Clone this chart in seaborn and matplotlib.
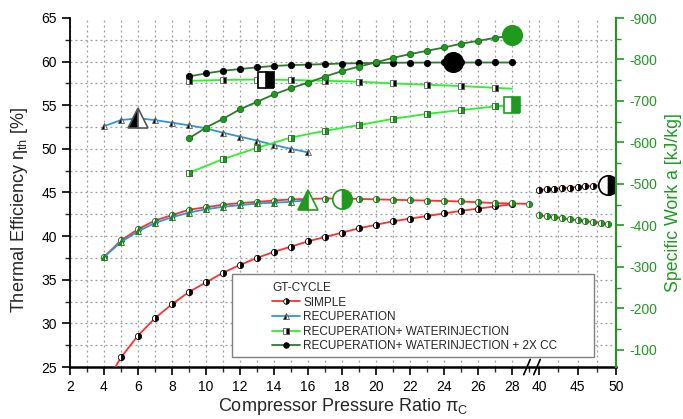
import numpy as np
import matplotlib
matplotlib.use("Agg")
import matplotlib.pyplot as plt
import seaborn as sns
from matplotlib.lines import Line2D
from matplotlib.patches import Rectangle
from matplotlib.ticker import FixedLocator

# ---------------- data ----------------
# SIMPLE cycle
pr_simple_eff = list(range(4, 29))
eff_simple = [22.8, 26.1, 28.6, 30.6, 32.2, 33.6, 34.7, 35.8, 36.7, 37.5, 38.2, 38.8, 39.4,
              39.9, 40.4, 40.9, 41.3, 41.7, 42.0, 42.3, 42.6, 42.9, 43.15, 43.4, 43.65]
pr_simple_eff_hi = list(range(40, 50))
eff_simple_hi = [45.3, 45.35, 45.4, 45.5, 45.55, 45.65, 45.7, 45.75, 45.85, 45.9]
pr_simple_work = list(range(4, 30))
work_simple = [-324, -364, -391, -412, -425, -438, -444, -450, -454, -457, -460, -463, -464,
               -465, -465, -464, -463, -462, -461, -460, -459, -458, -456, -454, -453, -452]
pr_simple_work_hi = list(range(40, 50))
work_simple_hi = [-425, -422, -420, -417, -415, -413, -411, -408, -406, -403]

# RECUPERATION
pr_recup = list(range(4, 17))
eff_recup = [52.6, 53.3, 53.5, 53.3, 53.0, 52.7, 52.35, 51.85, 51.4, 50.95, 50.45, 50.0, 49.6]
work_recup = [-324, -360, -386, -406, -420, -431, -439, -445, -449, -453, -455, -457, -461]

# RECUPERATION + WATERINJECTION
pr_wi = [9, 11, 13, 15, 17, 19, 21, 23, 25, 27, 28]
eff_wi = [57.8, 57.9, 57.95, 57.9, 57.8, 57.7, 57.5, 57.35, 57.2, 57.0, 56.9]
work_wi = [-527, -560, -587, -612, -628, -642, -657, -669, -678, -687, -690]

# RECUPERATION + WATERINJECTION + 2X CC
pr_cc = list(range(9, 29))
eff_cc = [58.3, 58.65, 58.95, 59.15, 59.35, 59.5, 59.6, 59.65, 59.72, 59.78, 59.82, 59.85,
          59.87, 59.88, 59.89, 59.9, 59.9, 59.9, 59.9, 59.9]
work_cc = [-610, -636, -657, -680, -698, -716, -731, -744, -759, -772, -783, -793, -804,
           -813, -821, -829, -838, -845, -852, -858]

# large label markers (x, value)
big_simple_eff = (49, 45.9)
big_simple_work = (18, -465)
big_recup_eff = (6, 53.5)
big_recup_work = (16, -461)
big_wi_eff = (13.5, 57.95)
big_wi_work = (28, -690)
big_cc_eff = (24.5, 59.9)
big_cc_work = (28, -858)

series_labels = ["SIMPLE", "RECUPERATION", "RECUPERATION+ WATERINJECTION",
                 "RECUPERATION+ WATERINJECTION + 2X CC"]
x_major = [2, 4, 6, 8, 10, 12, 14, 16, 18, 20, 22, 24, 26, 28, 40, 45, 50]
x_minor = list(range(3, 30, 2)) + [42.5, 47.5]

# ---------------- style ----------------
sns.set_theme(style="white")
plt.rcParams['font.family'] = ['Liberation Sans', 'DejaVu Sans']
plt.rcParams['mathtext.fontset'] = 'custom'
plt.rcParams['mathtext.rm'] = 'Liberation Sans'
plt.rcParams['mathtext.it'] = 'Liberation Sans:italic'

RED = '#ff3030'
BLUE = '#2f96d8'
LGREEN = '#2cf02c'
DGREEN = '#2e7a2e'
MGREEN = '#1f9a1f'
MEDGE = '#137013'
AXGREEN = '#1f9a1f'


def fwd(x):
    x = np.asarray(x, dtype=float)
    return np.where(x <= 29, x,
                    np.where(x < 40, 29 + (x - 29) * (10 / 17) / 11,
                             29 + 10 / 17 + (x - 40) * (7.7 / 17)))


def inv(y):
    y = np.asarray(y, dtype=float)
    b = 29 + 10 / 17
    return np.where(y <= 29, y,
                    np.where(y < b, 29 + (y - 29) * 11 / (10 / 17),
                             40 + (y - b) * 17 / 7.7))


fig = plt.figure(figsize=(6.83, 4.19), dpi=100)
ax = fig.add_axes([70 / 683, (419 - 367) / 419, 546 / 683, 349 / 419])
ax.set_xscale('function', functions=(fwd, inv))
ax.set_xlim(2, 50)
ax.set_ylim(25, 65)
ax2 = ax.twinx()
ax2.set_ylim(-59, -900)

ms_s = 4.5
ms_b = 14


def draw(axis, x, y, color, marker, fill, mfc, mec, ms=ms_s, lw=1.3, z=3, **kw):
    sns.lineplot(x=x, y=y, ax=axis, color=color, linewidth=lw, marker=marker,
                 fillstyle=fill, markerfacecolor=mfc, markerfacecoloralt='white',
                 markeredgecolor=mec, markeredgewidth=0.6, markersize=ms,
                 zorder=z, legend=False, **kw)


# efficiency (left axis, black markers)
draw(ax, pr_simple_eff, eff_simple, RED, 'o', 'right', 'black', 'black')
draw(ax, pr_simple_eff_hi, eff_simple_hi, RED, 'o', 'right', 'black', 'black')
draw(ax, pr_recup, eff_recup, BLUE, '^', 'left', 'black', '#555555')
draw(ax, pr_wi, eff_wi, LGREEN, 's', 'right', 'black', '#555555', markevery=slice(0, -1))
draw(ax, pr_cc, eff_cc, DGREEN, 'o', 'full', 'black', 'black')

# specific work (right axis, green markers)
draw(ax2, pr_simple_work, work_simple, RED, 'o', 'right', MGREEN, MEDGE)
draw(ax2, pr_simple_work_hi, work_simple_hi, RED, 'o', 'right', MGREEN, MEDGE)
draw(ax2, pr_recup, work_recup, BLUE, '^', 'left', MGREEN, MEDGE)
draw(ax2, pr_wi, work_wi, LGREEN, 's', 'right', MGREEN, MEDGE)
draw(ax2, pr_cc, work_cc, DGREEN, 'o', 'full', MGREEN, MEDGE)

# big label markers
for axis, (bx, by), mk, fill, mfc, mec in [
        (ax, big_simple_eff, 'o', 'right', 'black', 'black'),
        (ax, big_recup_eff, '^', 'left', 'black', '#555555'),
        (ax, big_wi_eff, 's', 'right', 'black', 'black'),
        (ax, big_cc_eff, 'o', 'full', 'black', 'black'),
        (ax2, big_simple_work, 'o', 'right', MGREEN, MGREEN),
        (ax2, big_recup_work, '^', 'left', MGREEN, MGREEN),
        (ax2, big_wi_work, 's', 'right', MGREEN, MGREEN),
        (ax2, big_cc_work, 'o', 'full', MGREEN, MGREEN)]:
    sns.lineplot(x=[bx], y=[by], ax=axis, marker=mk, fillstyle=fill,
                 markerfacecolor=mfc, markerfacecoloralt='white', markeredgecolor=mec,
                 markeredgewidth=1.2, markersize=ms_b if mk != 's' else 12,
                 linestyle='', zorder=5, legend=False)

# ---------------- axes cosmetics ----------------
ax.xaxis.set_major_locator(FixedLocator(x_major))
ax.xaxis.set_minor_locator(FixedLocator(x_minor))
ax.set_xticklabels([str(v) for v in x_major])
ax.yaxis.set_major_locator(FixedLocator([25, 30, 35, 40, 45, 50, 55, 60, 65]))
ax.yaxis.set_minor_locator(FixedLocator(np.arange(27.5, 65, 5)))
ax2.yaxis.set_major_locator(FixedLocator(list(range(-900, -99, 100))))
ax2.yaxis.set_minor_locator(FixedLocator(list(range(-850, -59, 100))))
ax2.set_yticklabels([str(v) for v in range(-900, -99, 100)])

grid_kw = dict(color='#9a9a9a', linestyle=(0, (1.5, 2.5)), linewidth=0.9)
ax.grid(True, axis='x', which='both', **grid_kw)
for gy in np.arange(27.5, 65, 2.5):
    ax.axhline(gy, zorder=0.5, **grid_kw)
ax.set_axisbelow(True)

for s in ['top', 'right']:
    ax.spines[s].set_visible(False)
for s in ['top', 'left', 'bottom']:
    ax2.spines[s].set_visible(False)
ax.spines['left'].set_color('black')
ax.spines['left'].set_linewidth(1.3)
ax.spines['bottom'].set_color('black')
ax.spines['bottom'].set_linewidth(1.8)
ax2.spines['right'].set_color(AXGREEN)
ax2.spines['right'].set_linewidth(1.5)

ax.tick_params(axis='both', which='major', direction='out', length=6, width=1.2,
               labelsize=10, colors='black', bottom=True, left=True)
ax.tick_params(axis='both', which='minor', direction='out', length=3.5, width=1.0,
               bottom=True, left=True)
ax2.tick_params(axis='y', which='major', direction='out', length=6, width=1.2,
                labelsize=10, colors=AXGREEN, right=True)
ax2.tick_params(axis='y', which='minor', direction='out', length=3.5, width=1.0,
                colors=AXGREEN, right=True)

ax.set_xlabel(r"Compressor Pressure Ratio π$_{\mathrm{C}}$", fontsize=13, labelpad=1)
ax.set_ylabel(r"Thermal Efficiency η$_{\mathrm{th}}$ [%]", fontsize=13)
ax.yaxis.set_label_coords(-40 / 546, (367 - 210) / 349)
ax2.set_ylabel("Specific Work a [kJ/kg]", fontsize=12.8, color=AXGREEN)
ax2.yaxis.set_label_coords((665 - 70) / 546, (367 - 203) / 349)

# axis break marks
for bx in [(527 - 70) / 546, (537 - 70) / 546]:
    ax.plot([bx - 0.006, bx + 0.006], [-0.022, 0.022], transform=ax.transAxes,
            color='black', lw=1.2, clip_on=False, zorder=6)

# ---------------- legend ----------------
proxies = [
    Line2D([], [], color=RED, lw=1.3, marker='o', fillstyle='right', mfc='black',
           mfcalt='white', mec='black', mew=0.6, ms=4),
    Line2D([], [], color=BLUE, lw=1.3, marker='^', fillstyle='left', mfc='black',
           mfcalt='white', mec='#555555', mew=0.6, ms=4),
    Line2D([], [], color=LGREEN, lw=1.3, marker='s', fillstyle='right', mfc='black',
           mfcalt='white', mec='#555555', mew=0.6, ms=4),
    Line2D([], [], color=DGREEN, lw=1.3, marker='o', mfc='black', mec='black', mew=0.6, ms=4),
]
frame = Rectangle(((232 - 70) / 546, (367 - 357) / 349), (594 - 232) / 546, (357 - 274) / 349,
                  transform=ax2.transAxes, facecolor='white', edgecolor='#808080',
                  linewidth=1.0, zorder=10)
ax2.add_patch(frame)
leg = ax2.legend(proxies, series_labels, title="GT-CYCLE", loc='upper left',
                 bbox_to_anchor=((272 - 70) / 546, (367 - 282) / 349), frameon=False,
                 fontsize=8.5, title_fontsize=8.5, handlelength=2.4, handletextpad=0.25,
                 labelspacing=0.22, borderpad=0, borderaxespad=0, alignment='left')
leg.set_zorder(11)

fig.savefig("out.png", dpi=100)
